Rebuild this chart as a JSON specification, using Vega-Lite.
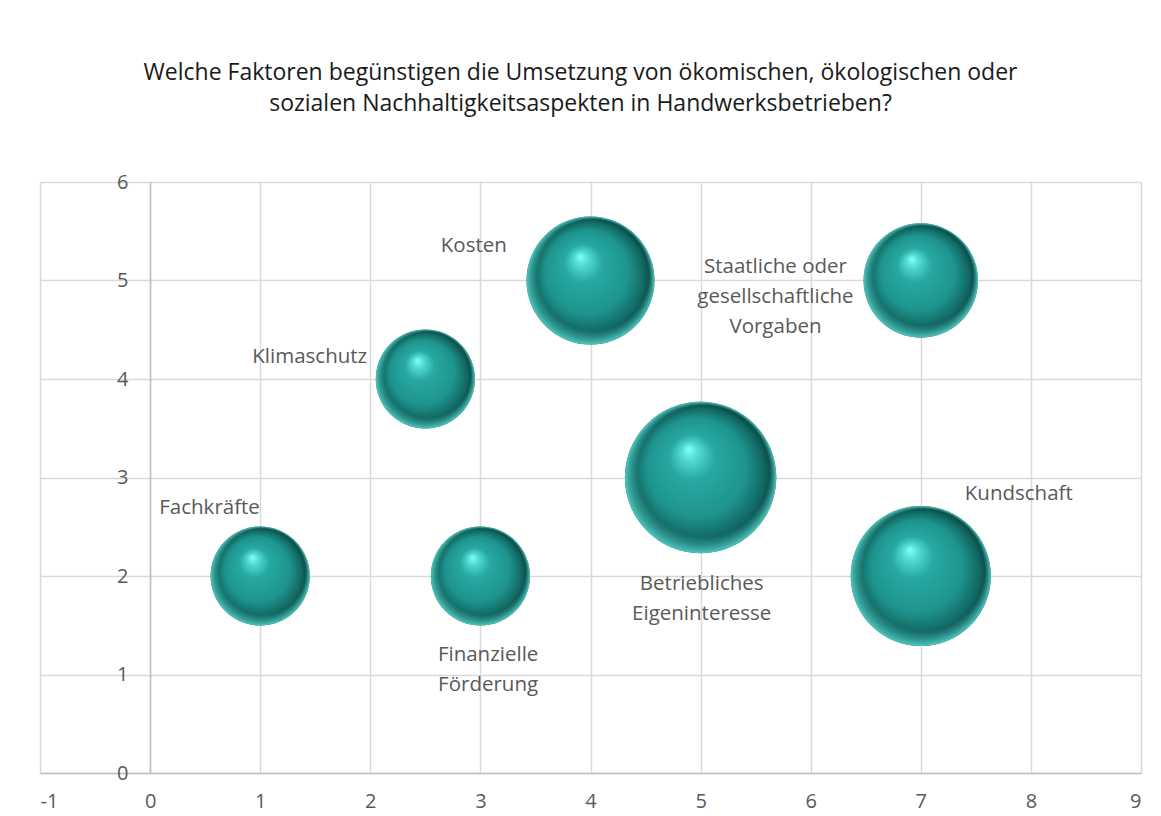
{
  "$schema": "https://vega.github.io/schema/vega-lite/v6.json",
  "autosize": "none",
  "width": 1101,
  "height": 591,
  "padding": {"left": 40, "top": 182, "right": 20, "bottom": 43},
  "background": "white",
  "title": {
    "text": ["Welche Faktoren begünstigen die Umsetzung von ökomischen, ökologischen oder", "sozialen Nachhaltigkeitsaspekten in Handwerksbetrieben?"],
    "font": "Open Sans",
    "fontSize": 23,
    "fontWeight": "normal",
    "color": "#1a1a1a",
    "anchor": "middle",
    "offset": 56,
    "lineHeight": 31,
    "dx": -10
  },
  "data": {
    "values": [
      {"faktor": "Fachkräfte", "x": 1, "y": 2, "groesse": 3, "lx": 0.54, "ly": 2.69},
      {"faktor": "Finanzielle\nFörderung", "x": 3, "y": 2, "groesse": 3, "lx": 3.07, "ly": 1.2},
      {"faktor": "Klimaschutz", "x": 2.5, "y": 4, "groesse": 3, "lx": 1.45, "ly": 4.22},
      {"faktor": "Kosten", "x": 4, "y": 5, "groesse": 5, "lx": 2.94, "ly": 5.35},
      {"faktor": "Staatliche oder\ngesellschaftliche\nVorgaben", "x": 7, "y": 5, "groesse": 4, "lx": 5.68, "ly": 5.14},
      {"faktor": "Betriebliches\nEigeninteresse", "x": 5, "y": 3, "groesse": 7, "lx": 5.01, "ly": 1.92},
      {"faktor": "Kundschaft", "x": 7, "y": 2, "groesse": 6, "lx": 7.89, "ly": 2.83}
    ]
  },
  "config": {
    "view": {"stroke": null},
    "axis": {
      "labelFont": "Open Sans",
      "labelFontSize": 20,
      "labelColor": "#595959",
      "gridColor": "#d9d9d9",
      "gridWidth": 1.5,
      "domainColor": "#bfbfbf",
      "domainWidth": 1.5,
      "ticks": false,
      "title": null,
      "format": "d",
      "labelExpr": "datum.value < 0 ? '-' + abs(datum.value) : datum.label"
    }
  },
  "layer": [
    {
      "mark": {
        "type": "circle",
        "opacity": 1,
        "fill": {
          "gradient": "radial",
          "x1": 0.42, "y1": 0.31, "r1": 0,
          "x2": 0.5, "y2": 0.5, "r2": 0.5,
          "stops": [
            {"offset": 0, "color": "#86fff9"},
            {"offset": 0.12, "color": "#4fd8d1"},
            {"offset": 0.3, "color": "#28a8a2"},
            {"offset": 0.65, "color": "#1e948e"},
            {"offset": 0.86, "color": "#126862"},
            {"offset": 1, "color": "#073a38"}
          ]
        }
      },
      "encoding": {
        "x": {
          "field": "x", "type": "quantitative",
          "scale": {"domain": [-1, 9], "nice": false, "zero": false},
          "axis": {"values": [-1, 0, 1, 2, 3, 4, 5, 6, 7, 8, 9], "grid": true, "labelPadding": 18, "domain": true}
        },
        "y": {
          "field": "y", "type": "quantitative",
          "scale": {"domain": [0, 6], "nice": false},
          "axis": {"values": [0, 1, 2, 3, 4, 5, 6], "grid": true, "offset": -110, "labelPadding": 22, "domain": true}
        },
        "size": {
          "field": "groesse", "type": "quantitative",
          "scale": {"domain": [0, 7], "range": [0, 22922], "zero": true},
          "legend": null
        }
      }
    },
    {
      "mark": {
        "type": "circle",
        "opacity": 1,
        "fill": {
          "gradient": "radial",
          "x1": 0.66, "y1": 0.18, "r1": 0,
          "x2": 0.5, "y2": 0.5, "r2": 0.5,
          "stops": [
            {"offset": 0, "color": "rgba(80,220,210,0)"},
            {"offset": 0.87, "color": "rgba(80,220,210,0)"},
            {"offset": 1, "color": "rgba(90,225,215,0.85)"}
          ]
        }
      },
      "encoding": {
        "x": {"field": "x", "type": "quantitative"},
        "y": {"field": "y", "type": "quantitative"},
        "size": {"field": "groesse", "type": "quantitative"}
      }
    },
    {
      "mark": {
        "type": "text",
        "font": "Open Sans",
        "fontSize": 20.5,
        "color": "#595959",
        "align": "center",
        "baseline": "middle",
        "lineBreak": "\n",
        "lineHeight": 30
      },
      "encoding": {
        "x": {"field": "lx", "type": "quantitative"},
        "y": {"field": "ly", "type": "quantitative"},
        "text": {"field": "faktor", "type": "nominal"}
      }
    }
  ]
}
